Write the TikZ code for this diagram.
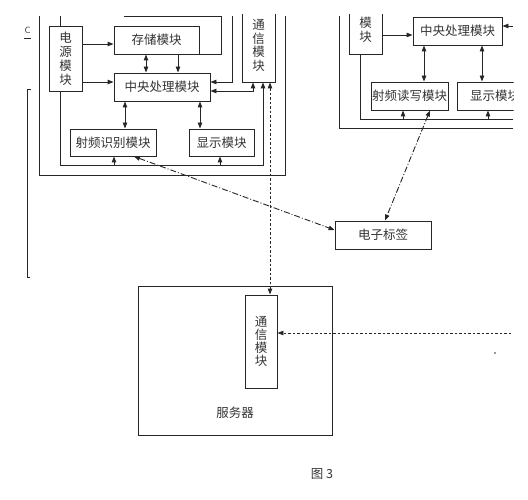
\documentclass[tikz,border=0pt]{standalone}
\usepackage{fontspec}
\newfontfamily\cjk{Noto Sans CJK SC}
\usetikzlibrary{arrows.meta,calc}
\begin{document}
\begin{tikzpicture}[x=1pt,y=-1pt,
  >={Triangle[length=6pt,width=4.5pt]},
  every node/.style={inner sep=0pt, font=\cjk\fontsize{12.5}{14}\selectfont, text=black!80},
  ln/.style={draw=black!85, line width=0.9pt},
  box/.style={ln, align=center},
  arr/.style={ln, ->},
  darr/.style={ln, <->},
  dots/.style={ln, dash pattern=on 2.5pt off 2pt},
  dd/.style={ln, dash pattern=on 6pt off 2pt on 1pt off 2pt}]
\useasboundingbox (0,0) rectangle (528,500);
\begin{scope}
\clip (0,15) rectangle (513.5,500);
% ---------- left unit ----------
\node[box, minimum width=33pt, minimum height=65pt] (pow) at (65.5,58.5) {电\\源\\模\\块};
\node[box, minimum width=85pt, minimum height=28pt] (sto) at (156.5,40) {存储模块};
\node[box, minimum width=96pt, minimum height=28pt] (cpu) at (162,87) {中央处理模块};
\node[box, minimum width=86pt, minimum height=27pt] (rfid) at (113,142.5) {射频识别模块};
\node[box, minimum width=65pt, minimum height=27pt] (disp) at (221.5,142.5) {显示模块};
\node[box, minimum width=33pt, minimum height=73pt, font=\cjk\fontsize{12.5}{13.5}\selectfont] (comm) at (258.5,45.5) {通\\信\\模\\块};
\coordinate (t1) at (124,16);
\coordinate (t2) at (221,16);
\coordinate (t3) at (232,16);
\coordinate (o1) at (39,16);
\coordinate (o2) at (285,16);
\coordinate (ya) at (0,44);
\coordinate (yb) at (0,82);
\coordinate (yc) at (0,91);
\coordinate (yd) at (0,165);
\coordinate (ye) at (0,175);
\draw[arr] (pow.east |- ya) -- (sto.west |- ya);
\draw[arr] (pow.east |- yb) -- (cpu.west |- yb);
\draw[darr] ([xshift=-10.5pt]sto.south) -- ([xshift=-10.5pt]sto.south |- cpu.north);
\draw[darr] ([xshift=-37pt]cpu.south) -- ([xshift=-37pt]cpu.south |- rfid.north);
\draw[darr] ([xshift=38pt]cpu.south) -- ([xshift=38pt]cpu.south |- disp.north);
\draw[ln] (t1) -- (t2) -- (t2 |- sto.south) -- ([xshift=16pt]cpu.north |- sto.south);
\draw[arr] ([xshift=16pt]cpu.north |- sto.south) -- ([xshift=16pt]cpu.north);
\draw[arr] (t3) -- (t3 |- yb) -- (cpu.east |- yb);
\draw[darr] (cpu.east |- yc) -| ([xshift=-5.5pt]comm.south);
\draw[arr] ([xshift=-5pt]pow.south) |- ([xshift=4.5pt]comm.south |- yd) -- ([xshift=4.5pt]comm.south);
\draw[arr] ([xshift=1pt]rfid.south |- yd) -- ([xshift=1pt]rfid.south);
\draw[arr] ([xshift=-1.5pt]disp.south |- yd) -- ([xshift=-1.5pt]disp.south);
\draw[ln] ([xshift=-5pt]pow.north) -- ([xshift=-5pt]pow.north |- t1);
\draw[ln] (o1) |- (o2 |- ye) -- (o2);
% bracket and label
\draw[ln] (31,89) -- (27,89) -- (27,277) -- (30,277);
\node[font=\sffamily\fontsize{9}{10}\selectfont] (clab) at (27.5,30) {C};
\draw[ln, line width=0.6pt] (24,38) -- (31,38);
% ---------- right unit ----------
\node[box, minimum width=33pt, minimum height=48pt] (rpow) at (365.5,30) {模\\块};
\node[box, minimum width=89pt, minimum height=28pt] (rcpu) at (457.5,31) {中央处理模块};
\node[box, minimum width=77pt, minimum height=28pt] (rrw) at (409.5,96) {射频读写模块};
\node[box, minimum width=76pt, minimum height=28pt] (rdisp) at (495,96) {显示模块};
\coordinate (yr1) at (0,35);
\coordinate (rr) at (513,26);
\coordinate (ri) at (513,119);
\coordinate (ro1) at (339,16);
\coordinate (ro2) at (513,128);
\draw[arr] (rpow.east |- yr1) -- (rcpu.west |- yr1);
\draw[arr] (rr) -- (rcpu.east |- rr);
\draw[darr] ([xshift=-33.5pt]rcpu.south) -- ([xshift=-33.5pt]rcpu.south |- rrw.north);
\draw[darr] ([xshift=24.5pt]rcpu.south) -- ([xshift=24.5pt]rcpu.south |- rdisp.north);
\draw[ln] ([xshift=-5.5pt]rpow.south) |- (ri);
\draw[arr] ([xshift=-6.5pt]rrw.south |- ri) -- ([xshift=-6.5pt]rrw.south);
\draw[arr] ([xshift=-7pt]rdisp.south |- ri) -- ([xshift=-7pt]rdisp.south);
\draw[ln] (ro1) |- (ro2);
% ---------- tag ----------
\node[box, minimum width=96pt, minimum height=28pt] (tag) at (383,235) {电子标签};
\draw[dd, <->] ([xshift=20.5pt]rrw.south) -- ([xshift=2pt]tag.north);
\draw[dd, <->] ([xshift=21pt]rfid.south) -- ([yshift=5pt]tag.west);
% ---------- server ----------
\node[box, minimum width=194pt, minimum height=149pt] (srv) at (235,360.5) {};
\node (srvlab) at (235,413) {服务器};
\node[box, minimum width=32pt, minimum height=93pt, font=\cjk\fontsize{12.5}{13}\selectfont] (scomm) at (261,341.5) {通\\信\\模\\块};
\draw[dots, <->] ([xshift=11.5pt]comm.south) -- ([xshift=11.5pt]comm.south |- scomm.north);
\coordinate (r1) at (511,333);
\draw[dots, ->] (r1) -- (scomm.east |- r1);
\fill[black!80] (495,353) circle (0.9pt);
\end{scope}
\node (fig) at (322,474) {图 3};
\end{tikzpicture}
\end{document}
